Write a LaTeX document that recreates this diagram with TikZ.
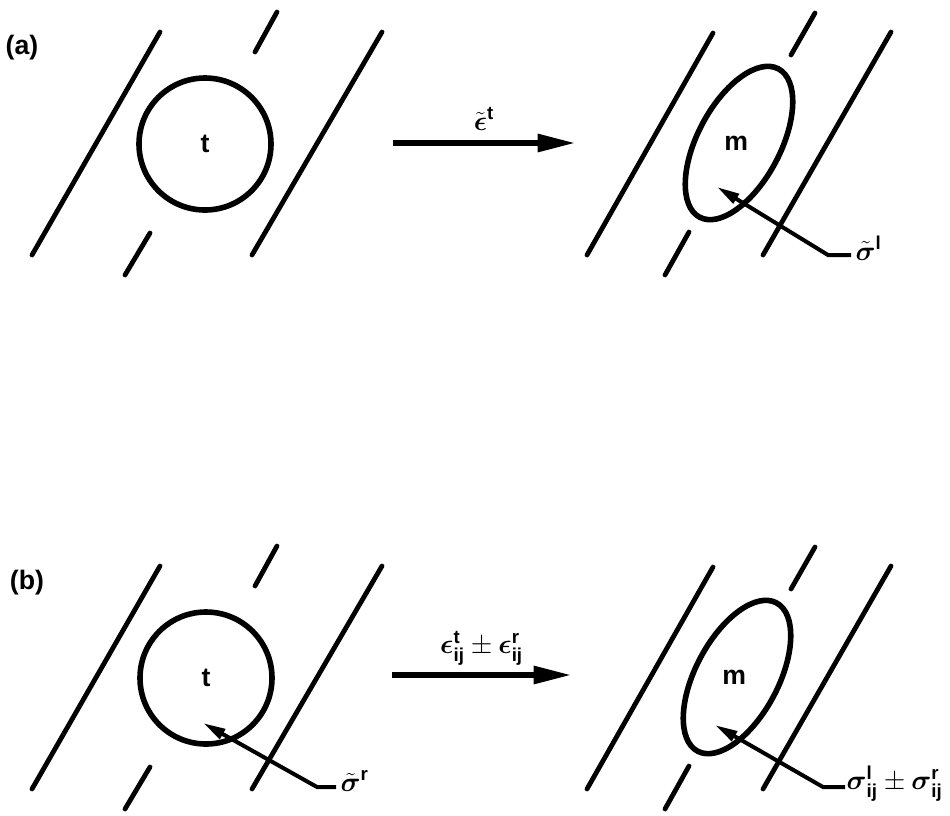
\documentclass[tikz,border=0pt]{standalone}
\usepackage{amsmath}
\usepackage{fontspec}
\setmainfont{Liberation Sans}
\usetikzlibrary{arrows.meta}

\tikzset{
  wall/.style={line width=3.6pt, line cap=round},
  grain/.style={line width=4.2pt},
  lab/.style={font=\fontsize{20}{24}\selectfont\bfseries},
  bigarrow/.style={line width=3.8pt, -{Triangle[length=28pt,width=13pt]}},
  ptarrow/.style={line width=3pt, -{Triangle[length=17pt,width=8pt]}},
}

\begin{document}
\begin{tikzpicture}[x=0.75pt,y=-0.75pt]
\useasboundingbox (0,0) rectangle (950,815);
% walls of the band, the same in both panels
\foreach \dy in {0,534}{
  \begin{scope}[shift={(0,\dy)}]
  \foreach \xa/\ya/\xb/\yb in {32/255/160/32, 125/275/150/233, 255/52/277/12, 252/255/382/32,
      587/255/713/33, 665/275/689/232, 791/55/815/13, 763/255/891/32}
    \draw[wall] (\xa,\ya) -- (\xb,\yb);
  \end{scope}
}

% (a)
\node[lab] (pa) at (22,48) {(a)};
\node[lab, grain, circle, draw, minimum size=99pt] (ta) at (205,144) {t};
\coordinate (ma) at (739,143);
\draw[grain, rotate around={62:(ma)}] (ma) ellipse [x radius=63pt, y radius=31pt];
\node[lab] (mla) at ([xshift=-2pt]ma) {m};
\coordinate (sa0) at (393,143);
\coordinate (sa1) at (575,143);
\draw[bigarrow] (sa0) -- node[lab, above=4pt] (epa) {$\tilde{\boldsymbol\epsilon}^{\mathbf{t}}$} (sa1);
\node[lab, anchor=west] (sla) at (851,248) {$\tilde{\boldsymbol\sigma}^{\mathbf{l}}$};
\coordinate (ka) at (828,255);
\coordinate (pta) at (717,187);
\draw[ptarrow] (ka -| sla.west) -- (ka) -- (pta);

% (b)
\node[lab] (pb) at (27,583) {(b)};
\node[lab, grain, circle, draw, minimum size=99pt] (tb) at (206,678) {t};
\coordinate (mb) at (737,677);
\draw[grain, rotate around={62:(mb)}] (mb) ellipse [x radius=63pt, y radius=31pt];
\node[lab] (mlb) at ([xshift=-2pt]mb) {m};
\coordinate (sb0) at (392,675);
\coordinate (sb1) at (571,675);
\draw[bigarrow] (sb0) -- node[lab, above=2pt] (epb)
  {$\boldsymbol\epsilon^{\mathbf{t}}_{\mathbf{ij}} \pm \boldsymbol\epsilon^{\mathbf{r}}_{\mathbf{ij}}$} (sb1);
\node[lab, anchor=west] (srb) at (336,781) {$\tilde{\boldsymbol\sigma}^{\mathbf{r}}$};
\coordinate (kb) at (317,787);
\coordinate (ptb) at (203,723);
\draw[ptarrow] (kb -| srb.west) -- (kb) -- (ptb);
\node[lab, anchor=west, inner sep=1pt] (slb) at (845,784)
  {$\boldsymbol\sigma^{\mathbf{l}}_{\mathbf{ij}} \pm \boldsymbol\sigma^{\mathbf{r}}_{\mathbf{ij}}$};
\coordinate (kc) at (823,787);
\coordinate (ptc) at (715,725);
\draw[ptarrow] (kc -| slb.west) -- (kc) -- (ptc);
\end{tikzpicture}
\end{document}
